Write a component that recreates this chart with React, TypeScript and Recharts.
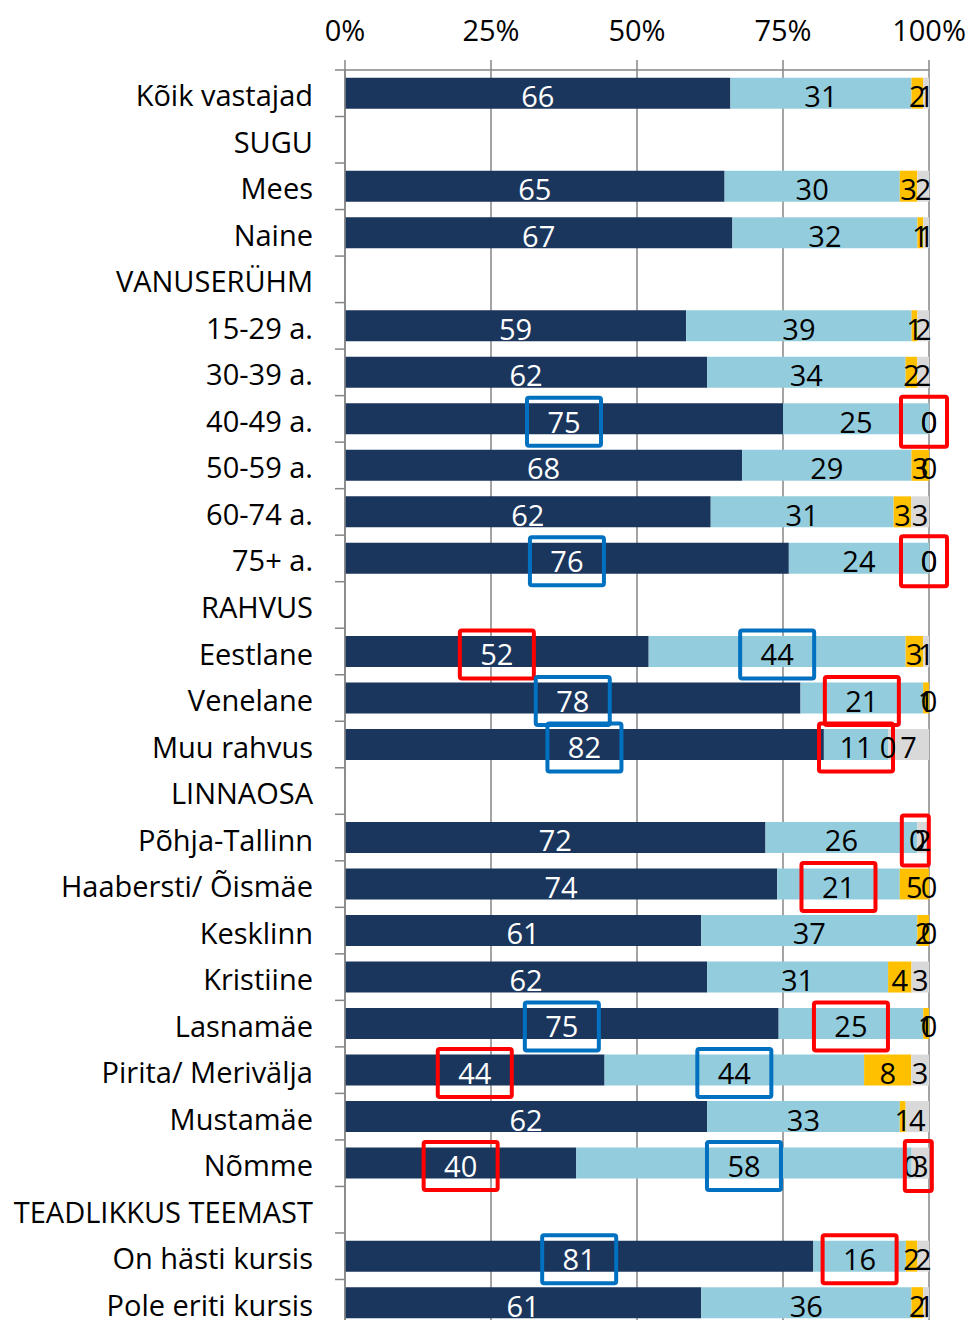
import React from 'react';
import { BarChart, Bar, XAxis, YAxis, CartesianGrid, LabelList } from 'recharts';

const categories = [
  'Kõik vastajad', 'SUGU', 'Mees', 'Naine', 'VANUSERÜHM', '15-29 a.', '30-39 a.', '40-49 a.',
  '50-59 a.', '60-74 a.', '75+ a.', 'RAHVUS', 'Eestlane', 'Venelane', 'Muu rahvus', 'LINNAOSA',
  'Põhja-Tallinn', 'Haabersti/ Õismäe', 'Kesklinn', 'Kristiine', 'Lasnamäe', 'Pirita/ Merivälja',
  'Mustamäe', 'Nõmme', 'TEADLIKKUS TEEMAST', 'On hästi kursis', 'Pole eriti kursis',
];

type V = number | null;
const series1: V[] = [66, null, 65, 67, null, 59, 62, 75, 68, 62, 76, null, 52, 78, 82, null, 72, 74, 61, 62, 75, 44, 62, 40, null, 81, 61];
const series2: V[] = [31, null, 30, 32, null, 39, 34, 25, 29, 31, 24, null, 44, 21, 11, null, 26, 21, 37, 31, 25, 44, 33, 58, null, 16, 36];
const series3: V[] = [2, null, 3, 1, null, 1, 2, 0, 3, 3, 0, null, 3, 1, 0, null, 0, 5, 2, 4, 1, 8, 1, 0, null, 2, 2];
const series4: V[] = [1, null, 2, 1, null, 2, 2, 0, 0, 3, 0, null, 1, 0, 7, null, 2, 0, 0, 3, 0, 3, 4, 3, null, 2, 1];

const xTicks = [0, 0.25, 0.5, 0.75, 1];

type Ann = { cat: string; series: string; color: 'red' | 'blue'; kind: 'wide' | 'tail' | 'thin' };
const annotations: Ann[] = [
  { cat: '40-49 a.', series: 's1', color: 'blue', kind: 'wide' },
  { cat: '40-49 a.', series: 's4', color: 'red', kind: 'tail' },
  { cat: '75+ a.', series: 's1', color: 'blue', kind: 'wide' },
  { cat: '75+ a.', series: 's4', color: 'red', kind: 'tail' },
  { cat: 'Eestlane', series: 's1', color: 'red', kind: 'wide' },
  { cat: 'Eestlane', series: 's2', color: 'blue', kind: 'wide' },
  { cat: 'Venelane', series: 's1', color: 'blue', kind: 'wide' },
  { cat: 'Venelane', series: 's2', color: 'red', kind: 'wide' },
  { cat: 'Muu rahvus', series: 's1', color: 'blue', kind: 'wide' },
  { cat: 'Muu rahvus', series: 's2', color: 'red', kind: 'wide' },
  { cat: 'Põhja-Tallinn', series: 's3', color: 'red', kind: 'thin' },
  { cat: 'Haabersti/ Õismäe', series: 's2', color: 'red', kind: 'wide' },
  { cat: 'Lasnamäe', series: 's1', color: 'blue', kind: 'wide' },
  { cat: 'Lasnamäe', series: 's2', color: 'red', kind: 'wide' },
  { cat: 'Pirita/ Merivälja', series: 's1', color: 'red', kind: 'wide' },
  { cat: 'Pirita/ Merivälja', series: 's2', color: 'blue', kind: 'wide' },
  { cat: 'Nõmme', series: 's1', color: 'red', kind: 'wide' },
  { cat: 'Nõmme', series: 's2', color: 'blue', kind: 'wide' },
  { cat: 'Nõmme', series: 's4', color: 'red', kind: 'thin' },
  { cat: 'On hästi kursis', series: 's1', color: 'blue', kind: 'wide' },
  { cat: 'On hästi kursis', series: 's2', color: 'red', kind: 'wide' },
];

// zero-valued segments get a tiny width so that their "0" labels are still drawn
const EPS = 1e-6;
const barVal = (v: V) => (v === null ? null : v === 0 ? EPS : v);

const data = categories.map((c, i) => ({
  name: c,
  s1: barVal(series1[i]),
  s2: barVal(series2[i]),
  s3: barVal(series3[i]),
  s4: barVal(series4[i]),
  l1: series1[i],
  l2: series2[i],
  l3: series3[i],
  l4: series4[i],
}));

const W = 968;
const H = 1326;
const TOP = 70;
const AXIS_X = 345;
const RIGHT = 39;
const FONT = '"Open Sans", sans-serif';
const FS = 29;
const BAND = (H - TOP) / categories.length;

const COLORS = { s1: '#1B365D', s2: '#93CDDD', s3: '#FFC000', s4: '#D9D9D9' };
const BOX = {
  wide: { w: 74, h: 48, dx: 0 },
  tail: { w: 46, h: 50, dx: -5 },
  thin: { w: 27, h: 50, dx: -2 },
};
const BOX_COLOR = { red: '#FF0000', blue: '#0070C0' };

const makeLabel = (key: string, fill: string) => (props: any) => {
  const { x, y, width, height, value } = props;
  if (value === null || value === undefined) return null;
  const cx = Number(x) + Number(width) / 2;
  const cy = Number(y) + Number(height) / 2;
  const row = Math.floor((cy - TOP) / BAND);
  const cat = categories[row];
  const ann = annotations.find((a) => a.cat === cat && a.series === key);
  const b = ann ? BOX[ann.kind] : null;
  return (
    <g>
      <text x={cx} y={cy} dy="0.48em" textAnchor="middle" fill={fill} fontSize={FS} fontFamily={FONT}>
        {value}
      </text>
      {ann && b && (
        <rect
          x={cx - b.w / 2 + b.dx}
          y={cy - b.h / 2 + 3}
          width={b.w}
          height={b.h}
          rx={2}
          fill="none"
          stroke={BOX_COLOR[ann.color]}
          strokeWidth={4}
        />
      )}
    </g>
  );
};

const YTick = (props: any) => {
  const { y, payload, index } = props;
  const boundary = y - BAND / 2;
  return (
    <g>
      <line x1={AXIS_X - 10} x2={AXIS_X} y1={boundary} y2={boundary} stroke="#868686" strokeWidth={1.5} />
      {index === categories.length - 1 && (
        <line x1={AXIS_X - 10} x2={AXIS_X} y1={boundary + BAND} y2={boundary + BAND} stroke="#868686" strokeWidth={1.5} />
      )}
      <text x={AXIS_X - 32} y={y} dy="0.45em" textAnchor="end" fill="#000" fontSize={FS} fontFamily={FONT}>
        {payload.value}
      </text>
    </g>
  );
};

const XTick = (props: any) => {
  const { x, payload } = props;
  return (
    <g>
      <line x1={x} x2={x} y1={TOP - 10} y2={TOP} stroke="#868686" strokeWidth={1.5} />
      <text x={x} y={31} dy="0.36em" textAnchor="middle" fill="#000" fontSize={FS} fontFamily={FONT}>
        {`${Math.round(payload.value * 100)}%`}
      </text>
    </g>
  );
};

export default function App() {
  return (
    <div style={{ position: 'absolute', left: 0, top: 0, width: W, height: 1320, overflow: 'hidden', background: '#fff' }}>
      <BarChart
        width={W}
        height={H}
        data={data}
        layout="vertical"
        stackOffset="expand"
        barCategoryGap="16.5%"
        margin={{ top: 0, right: RIGHT, bottom: 0, left: 0 }}
      >
        <CartesianGrid horizontal={false} vertical stroke="#868686" strokeWidth={1.5} />
        <XAxis
          type="number"
          orientation="top"
          domain={[0, 1]}
          ticks={xTicks}
          height={TOP}
          axisLine={{ stroke: '#868686', strokeWidth: 1.5 }}
          tickLine={false}
          tick={<XTick />}
          interval={0}
        />
        <YAxis
          type="category"
          dataKey="name"
          width={AXIS_X}
          axisLine={{ stroke: '#868686', strokeWidth: 1.5 }}
          tickLine={false}
          tick={<YTick />}
          interval={0}
        />
        <Bar dataKey="s1" stackId="a" fill={COLORS.s1} isAnimationActive={false}>
          <LabelList dataKey="l1" content={makeLabel('s1', '#FFFFFF')} />
        </Bar>
        <Bar dataKey="s2" stackId="a" fill={COLORS.s2} isAnimationActive={false}>
          <LabelList dataKey="l2" content={makeLabel('s2', '#000000')} />
        </Bar>
        <Bar dataKey="s3" stackId="a" fill={COLORS.s3} isAnimationActive={false}>
          <LabelList dataKey="l3" content={makeLabel('s3', '#000000')} />
        </Bar>
        <Bar dataKey="s4" stackId="a" fill={COLORS.s4} isAnimationActive={false}>
          <LabelList dataKey="l4" content={makeLabel('s4', '#000000')} />
        </Bar>
      </BarChart>
    </div>
  );
}
